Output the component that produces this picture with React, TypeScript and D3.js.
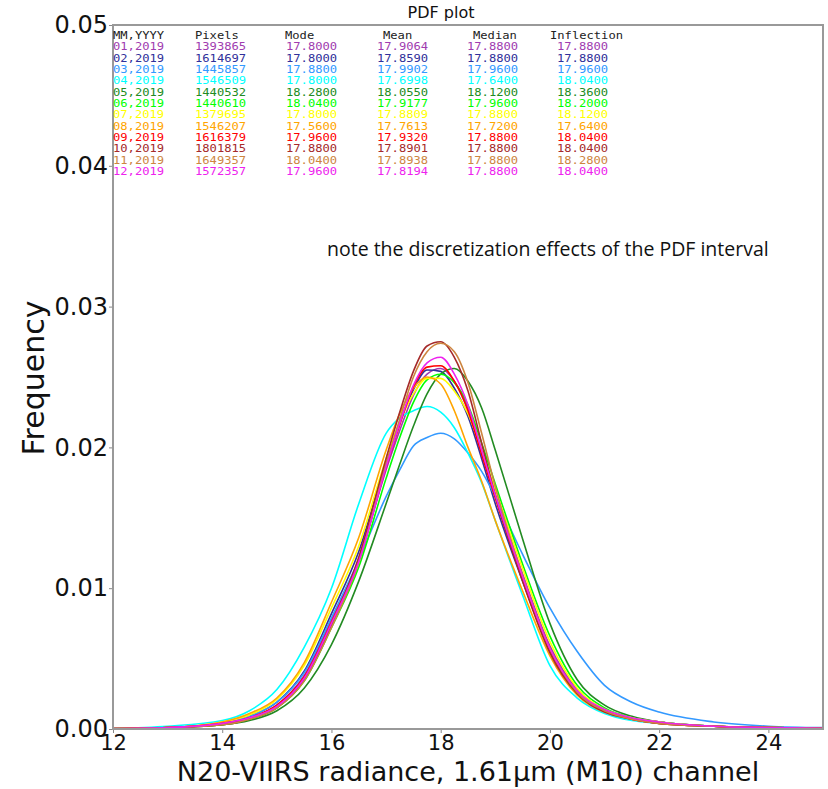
import React, { useEffect, useRef } from "react";
import * as d3 from "d3";

// radiance grid (x) shared by all monthly PDFs
const radiance = [12, 13, 14, 14.5, 15, 15.5, 16, 16.5, 17, 17.25, 17.5, 17.75, 18, 18.25, 18.5, 18.75, 19, 19.5, 20, 20.5, 21, 21.5, 22, 23, 24, 25];

const months = ["01,2019", "02,2019", "03,2019", "04,2019", "05,2019", "06,2019", "07,2019", "08,2019", "09,2019", "10,2019", "11,2019", "12,2019"];
const monthColors = ["#a03cb0", "#30309a", "#3399ff", "#00ffff", "#228b22", "#00ff00", "#ffff00", "#ffa500", "#ff0000", "#a52a2a", "#cd853f", "#ee22ee"];

const pixels = ["1393865", "1614697", "1445857", "1546509", "1440532", "1440610", "1379695", "1546207", "1616379", "1801815", "1649357", "1572357"];
const modes = ["17.8000", "17.8000", "17.8800", "17.8000", "18.2800", "18.0400", "17.8000", "17.5600", "17.9600", "17.8800", "18.0400", "17.9600"];
const means = ["17.9064", "17.8590", "17.9902", "17.6998", "18.0550", "17.9177", "17.8809", "17.7613", "17.9320", "17.8901", "17.8938", "17.8194"];
const medians = ["17.8800", "17.8800", "17.9600", "17.6400", "18.1200", "17.9600", "17.8800", "17.7200", "17.8800", "17.8800", "17.8800", "17.8800"];
const inflections = ["17.8800", "17.8800", "17.9600", "18.0400", "18.3600", "18.2000", "18.1200", "17.6400", "18.0400", "18.0400", "18.2800", "18.0400"];

// frequency, one array per month
const freq01 = [0.00003, 0.0001, 0.0004, 0.0008, 0.0017, 0.0038, 0.0078, 0.0120, 0.0184, 0.0212, 0.0237, 0.0252, 0.0256, 0.0247, 0.0228, 0.0198, 0.0167, 0.0110, 0.0059, 0.0028, 0.0014, 0.0008, 0.0005, 0.0002, 0.0001, 0.00005];
const freq02 = [0.00003, 0.0001, 0.0004, 0.0009, 0.0019, 0.0041, 0.0082, 0.0126, 0.0190, 0.0218, 0.0241, 0.0255, 0.0254, 0.0242, 0.0222, 0.0192, 0.0160, 0.0105, 0.0056, 0.0026, 0.0013, 0.0008, 0.0005, 0.0002, 0.0001, 0.00005];
const freq03 = [0.00003, 0.0001, 0.0004, 0.0009, 0.0019, 0.0040, 0.0079, 0.0120, 0.0165, 0.0184, 0.0201, 0.0207, 0.0210, 0.0206, 0.0196, 0.0183, 0.0165, 0.0124, 0.0086, 0.0055, 0.0031, 0.0019, 0.0012, 0.0005, 0.0002, 0.0001];
const freq04 = [0.00005, 0.0002, 0.0006, 0.0013, 0.0028, 0.0058, 0.0100, 0.0160, 0.0210, 0.0221, 0.0226, 0.0229, 0.0225, 0.0214, 0.0196, 0.0175, 0.0148, 0.0095, 0.0045, 0.0022, 0.0011, 0.0006, 0.0004, 0.0002, 0.0001, 0.00005];
const freq05 = [0.00002, 0.0001, 0.0003, 0.0006, 0.0013, 0.0029, 0.0060, 0.0105, 0.0160, 0.0188, 0.0215, 0.0238, 0.0252, 0.0256, 0.0247, 0.0228, 0.0198, 0.0135, 0.0075, 0.0035, 0.0017, 0.0009, 0.0005, 0.0002, 0.0001, 0.00005];
const freq06 = [0.00003, 0.0001, 0.0003, 0.0007, 0.0015, 0.0034, 0.0072, 0.0115, 0.0178, 0.0207, 0.0232, 0.0248, 0.0252, 0.0246, 0.0230, 0.0203, 0.0174, 0.0117, 0.0066, 0.0031, 0.0015, 0.0008, 0.0005, 0.0002, 0.0001, 0.00005];
const freq07 = [0.00003, 0.0001, 0.0005, 0.0010, 0.0021, 0.0045, 0.0086, 0.0130, 0.0192, 0.0218, 0.0238, 0.0249, 0.0249, 0.0240, 0.0224, 0.0198, 0.0170, 0.0114, 0.0062, 0.0029, 0.0014, 0.0008, 0.0005, 0.0002, 0.0001, 0.00005];
const freq08 = [0.00004, 0.0001, 0.0005, 0.0011, 0.0022, 0.0047, 0.0090, 0.0136, 0.0198, 0.0224, 0.0242, 0.0250, 0.0245, 0.0226, 0.0200, 0.0176, 0.0148, 0.0098, 0.0052, 0.0024, 0.0012, 0.0007, 0.0004, 0.0002, 0.0001, 0.00005];
const freq09 = [0.00003, 0.0001, 0.0004, 0.0008, 0.0017, 0.0037, 0.0076, 0.0120, 0.0186, 0.0216, 0.0243, 0.0257, 0.0258, 0.0247, 0.0226, 0.0195, 0.0164, 0.0106, 0.0056, 0.0026, 0.0013, 0.0007, 0.0004, 0.0002, 0.0001, 0.00005];
const freq10 = [0.00002, 0.0001, 0.0003, 0.0007, 0.0015, 0.0035, 0.0074, 0.0122, 0.0192, 0.0225, 0.0254, 0.0272, 0.0275, 0.0264, 0.0240, 0.0203, 0.0166, 0.0105, 0.0054, 0.0025, 0.0012, 0.0007, 0.0004, 0.0002, 0.0001, 0.00005];
const freq11 = [0.00002, 0.0001, 0.0003, 0.0007, 0.0015, 0.0034, 0.0072, 0.0118, 0.0188, 0.0220, 0.0250, 0.0268, 0.0274, 0.0268, 0.0246, 0.0210, 0.0172, 0.0109, 0.0057, 0.0026, 0.0013, 0.0007, 0.0004, 0.0002, 0.0001, 0.00005];
const freq12 = [0.00003, 0.0001, 0.0004, 0.0008, 0.0016, 0.0036, 0.0075, 0.0119, 0.0186, 0.0217, 0.0244, 0.0260, 0.0264, 0.0252, 0.0230, 0.0198, 0.0166, 0.0108, 0.0057, 0.0027, 0.0014, 0.0008, 0.0005, 0.0002, 0.0001, 0.00005];
const allFreq = [freq01, freq02, freq03, freq04, freq05, freq06, freq07, freq08, freq09, freq10, freq11, freq12];

const xTicks = [12, 14, 16, 18, 20, 22, 24];
const yTicks = [0, 0.01, 0.02, 0.03, 0.04, 0.05];

export default function App() {
  const ref = useRef<SVGSVGElement>(null);

  useEffect(() => {
    const width = 828;
    const height = 789;
    const margin = { top: 25, right: 5, bottom: 60, left: 113 };

    const svg = d3.select(ref.current);
    svg.selectAll("*").remove();
    svg.attr("width", width).attr("height", height);

    const x = d3.scaleLinear().domain([12, 25]).range([margin.left, width - margin.right]);
    const y = d3.scaleLinear().domain([0, 0.05]).range([height - margin.bottom, margin.top]);

    // curves
    const line = d3.line<number>()
      .x((_, i) => x(radiance[i]))
      .y(d => y(d))
      .curve(d3.curveMonotoneX);

    svg.append("g")
      .selectAll("path")
      .data(allFreq)
      .enter()
      .append("path")
      .attr("d", d => line(d))
      .attr("fill", "none")
      .attr("stroke", (_, i) => monthColors[i])
      .attr("stroke-width", 1.6);

    // axes
    const xAxis = svg.append("g")
      .attr("transform", `translate(0, ${y(0)})`)
      .call(d3.axisBottom(x).tickValues(xTicks).tickSize(4).tickPadding(2));
    xAxis.select(".domain").remove();
    xAxis.selectAll("line").attr("stroke", "#888");
    xAxis.selectAll("text")
      .attr("font-family", "DejaVu Sans")
      .attr("font-size", 21)
      .attr("fill", "#111");

    const yAxis = svg.append("g")
      .attr("transform", `translate(${x(12)}, 0)`)
      .call(d3.axisLeft(y).tickValues(yTicks).tickFormat(d3.format(".2f")).tickSize(4).tickPadding(1));
    yAxis.select(".domain").remove();
    yAxis.selectAll("line").attr("stroke", "#888");
    yAxis.selectAll("text")
      .attr("font-family", "DejaVu Sans")
      .attr("font-size", 24)
      .attr("fill", "#111");

    // frame
    svg.append("rect")
      .attr("x", x(12))
      .attr("y", y(0.05))
      .attr("width", x(25) - x(12))
      .attr("height", y(0) - y(0.05))
      .attr("fill", "none")
      .attr("stroke", "#999")
      .attr("stroke-width", 2);

    // table of monthly stats (monospace squeezed vertically like the source)
    const cols = [
      { head: "MM,YYYY", hx: 113, vx: 113, vals: months },
      { head: "Pixels", hx: 195, vx: 195, vals: pixels },
      { head: "Mode", hx: 285, vx: 286, vals: modes },
      { head: "Mean", hx: 383, vx: 377, vals: means },
      { head: "Median", hx: 473, vx: 467, vals: medians },
      { head: "Inflection", hx: 550, vx: 557, vals: inflections },
    ];
    const rowH = 11.33;
    const charW = 7.3;
    const table = svg.append("g")
      .attr("font-family", "DejaVu Sans Mono")
      .attr("font-size", 9.6);
    cols.forEach(c => {
      table.append("text")
        .attr("x", c.hx)
        .attr("y", 39)
        .attr("fill", "#222")
        .attr("textLength", c.head.length * charW)
        .attr("lengthAdjust", "spacingAndGlyphs")
        .text(c.head);
      c.vals.forEach((v, i) => {
        table.append("text")
          .attr("x", c.vx)
          .attr("y", 39 + rowH * (i + 1))
          .attr("fill", monthColors[i])
          .attr("textLength", v.length * charW)
          .attr("lengthAdjust", "spacingAndGlyphs")
          .text(v);
      });
    });

    // title
    svg.append("text")
      .attr("x", 441)
      .attr("y", 18)
      .attr("text-anchor", "middle")
      .attr("font-family", "DejaVu Sans")
      .attr("font-size", 16)
      .attr("fill", "#111")
      .text("PDF plot");

    // note
    svg.append("text")
      .attr("x", 327)
      .attr("y", 256)
      .attr("font-family", "Open Sans")
      .attr("font-size", 19.5)
      .attr("fill", "#111")
      .text("note the discretization effects of the PDF interval");

    // x label
    svg.append("text")
      .attr("x", 468)
      .attr("y", 781)
      .attr("text-anchor", "middle")
      .attr("font-family", "DejaVu Sans")
      .attr("font-size", 27)
      .attr("fill", "#111")
      .text("N20-VIIRS radiance, 1.61µm (M10) channel");

    // y label
    svg.append("text")
      .attr("transform", "rotate(-90)")
      .attr("x", -378)
      .attr("y", 44)
      .attr("text-anchor", "middle")
      .attr("font-family", "DejaVu Sans")
      .attr("font-size", 30)
      .attr("fill", "#111")
      .text("Frequency");
  }, []);

  return (
    <svg ref={ref} style={{ position: "absolute", left: 0, top: 0, background: "#fff" }} />
  );
}
